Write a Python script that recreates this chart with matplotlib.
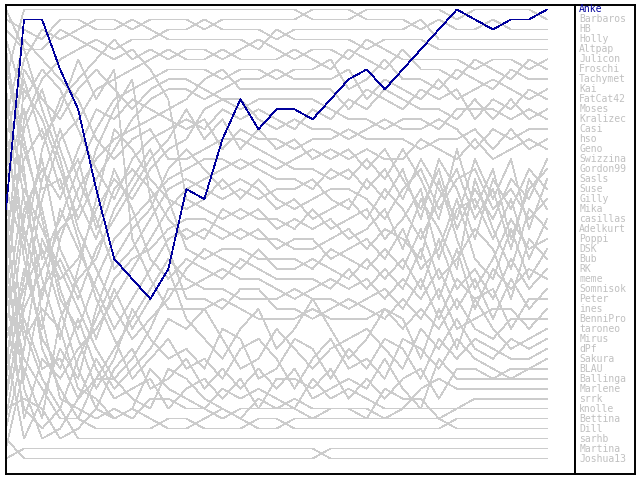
import matplotlib
matplotlib.use("Agg")
import matplotlib.pyplot as plt

# players, listed by final rank
names = ['Anke', 'Barbaros', 'HB', 'Holly', 'Altpap', 'Julicon', 'Froschi', 'Tachymet',
         'Kai', 'FatCat42', 'Moses', 'Kralizec', 'Casi', 'hso', 'Geno', 'Swizzina',
         'Gordon99', 'Sasls', 'Suse', 'Gilly', 'Mika', 'casillas', 'Adelkurt', 'Poppi',
         'DSK', 'Bub', 'RK', 'meme', 'Somnisok', 'Peter', 'ines', 'BenniPro', 'taroneo',
         'Mirus', 'dPf', 'Sakura', 'BLAU', 'Ballinga', 'Marlene', 'srrk', 'knolle',
         'Bettina', 'Dill', 'sarhb', 'Martina', 'Joshua13']

# rank of each player at each of the 31 rounds (same order as names)
ranks = [
    [21, 2, 2, 7, 11, 19, 26, 28, 30, 27, 19, 20, 14, 10, 13, 11, 11, 12, 10, 8, 7, 9, 7, 5, 3, 1, 2, 3, 2, 2, 1],
    [8, 1, 1, 1, 1, 1, 1, 1, 1, 1, 1, 1, 1, 1, 1, 1, 1, 2, 2, 2, 1, 1, 1, 1, 1, 2, 1, 1, 1, 1, 2],
    [14, 6, 3, 4, 3, 2, 2, 3, 2, 2, 2, 3, 2, 2, 2, 2, 2, 1, 1, 1, 2, 2, 2, 3, 2, 3, 3, 2, 3, 3, 3],
    [30, 12, 8, 6, 5, 4, 5, 4, 4, 3, 3, 2, 3, 3, 3, 4, 3, 3, 3, 3, 3, 3, 3, 2, 4, 4, 4, 4, 4, 4, 4],
    [2, 3, 4, 2, 2, 3, 3, 2, 3, 4, 4, 4, 4, 4, 5, 3, 4, 4, 4, 4, 5, 4, 4, 4, 5, 5, 5, 5, 5, 5, 5],
    [19, 25, 15, 10, 8, 6, 4, 6, 5, 6, 5, 5, 6, 5, 4, 5, 6, 5, 5, 6, 4, 5, 6, 6, 6, 6, 7, 6, 6, 7, 6],
    [40, 30, 20, 14, 12, 9, 8, 7, 6, 5, 6, 6, 5, 6, 6, 6, 5, 6, 7, 5, 6, 7, 5, 7, 7, 8, 6, 7, 8, 6, 7],
    [11, 18, 26, 22, 17, 13, 10, 9, 8, 7, 7, 7, 8, 7, 7, 8, 7, 7, 6, 9, 8, 6, 8, 8, 9, 7, 8, 9, 7, 8, 8],
    [25, 9, 12, 17, 22, 18, 15, 12, 10, 9, 9, 10, 9, 8, 8, 7, 8, 8, 8, 7, 10, 8, 9, 10, 8, 10, 9, 8, 9, 10, 9],
    [36, 27, 33, 24, 19, 16, 14, 13, 12, 11, 10, 8, 7, 9, 9, 9, 9, 9, 9, 11, 9, 10, 11, 9, 10, 9, 12, 10, 11, 9, 10],
    [4, 10, 7, 9, 13, 17, 20, 16, 14, 13, 12, 13, 11, 12, 11, 12, 13, 11, 12, 10, 11, 9, 10, 11, 11, 12, 10, 12, 10, 12, 11],
    [43, 35, 24, 28, 26, 21, 18, 20, 17, 15, 14, 11, 10, 11, 10, 10, 10, 10, 11, 12, 12, 13, 12, 12, 13, 11, 11, 11, 12, 11, 12],
    [17, 7, 10, 12, 9, 7, 9, 11, 9, 8, 8, 9, 10, 10, 12, 13, 12, 13, 13, 14, 13, 12, 13, 13, 12, 13, 15, 13, 14, 13, 13],
    [33, 21, 17, 20, 15, 11, 12, 10, 11, 12, 13, 12, 15, 13, 14, 14, 15, 14, 14, 13, 14, 14, 14, 15, 14, 14, 13, 15, 13, 15, 14],
    [22, 38, 29, 26, 30, 25, 22, 19, 16, 14, 11, 14, 12, 15, 13, 15, 14, 16, 15, 16, 15, 16, 16, 14, 15, 16, 14, 16, 15, 14, 15],
    [6, 14, 22, 30, 33, 28, 24, 22, 20, 18, 17, 16, 16, 17, 16, 17, 16, 15, 16, 15, 17, 15, 18, 21, 17, 23, 19, 22, 18, 20, 16],
    [29, 42, 36, 38, 35, 33, 30, 27, 24, 21, 19, 18, 17, 16, 17, 18, 18, 19, 17, 18, 16, 18, 15, 18, 22, 15, 21, 17, 24, 19, 17],
    [12, 4, 6, 8, 10, 14, 16, 14, 13, 16, 16, 15, 14, 14, 15, 16, 17, 17, 18, 17, 19, 17, 20, 16, 19, 22, 16, 20, 16, 23, 18],
    [38, 28, 18, 13, 18, 22, 27, 25, 22, 19, 18, 19, 20, 19, 20, 19, 19, 18, 20, 21, 18, 20, 17, 22, 16, 19, 24, 18, 21, 17, 19],
    [9, 20, 28, 34, 27, 20, 13, 15, 18, 20, 21, 20, 18, 20, 18, 20, 21, 20, 19, 19, 20, 22, 19, 17, 21, 18, 17, 21, 19, 22, 20],
    [35, 44, 40, 35, 38, 31, 26, 23, 21, 17, 15, 17, 19, 18, 19, 21, 20, 22, 21, 20, 22, 19, 21, 24, 20, 17, 22, 19, 25, 18, 21],
    [1, 5, 5, 3, 4, 5, 6, 5, 7, 10, 20, 21, 22, 21, 22, 22, 23, 21, 23, 22, 21, 24, 22, 19, 26, 21, 20, 24, 20, 26, 22],
    [15, 23, 30, 21, 25, 29, 33, 30, 27, 24, 23, 24, 21, 22, 21, 23, 22, 23, 22, 24, 23, 21, 25, 20, 23, 27, 18, 23, 27, 21, 23],
    [27, 13, 9, 15, 20, 24, 19, 17, 19, 22, 24, 23, 24, 23, 24, 24, 25, 25, 24, 23, 25, 23, 24, 26, 18, 24, 29, 26, 22, 25, 24],
    [20, 33, 38, 41, 36, 32, 28, 26, 25, 23, 22, 22, 23, 24, 23, 25, 24, 24, 26, 25, 24, 26, 23, 27, 25, 20, 26, 28, 23, 28, 25],
    [45, 37, 42, 32, 28, 26, 21, 18, 15, 20, 25, 26, 25, 25, 26, 26, 26, 27, 25, 26, 27, 25, 27, 23, 28, 26, 23, 25, 30, 24, 26],
    [3, 5, 11, 16, 23, 27, 31, 34, 32, 30, 27, 25, 26, 27, 25, 27, 27, 26, 27, 28, 26, 28, 26, 29, 24, 29, 27, 30, 26, 29, 27],
    [23, 16, 13, 19, 16, 23, 17, 21, 26, 28, 26, 27, 28, 26, 27, 28, 28, 28, 29, 27, 29, 27, 29, 25, 30, 25, 31, 27, 29, 27, 28],
    [31, 19, 23, 27, 31, 35, 38, 36, 33, 29, 29, 28, 27, 28, 28, 29, 30, 29, 28, 29, 28, 30, 28, 30, 27, 31, 28, 32, 28, 31, 29],
    [10, 24, 35, 39, 42, 38, 35, 32, 29, 26, 28, 29, 29, 30, 30, 30, 29, 30, 30, 31, 30, 29, 31, 28, 32, 28, 30, 29, 33, 30, 30],
    [42, 31, 27, 23, 21, 15, 11, 8, 20, 25, 30, 30, 31, 29, 29, 31, 31, 32, 31, 30, 31, 32, 30, 32, 29, 33, 32, 31, 31, 33, 31],
    [16, 8, 14, 11, 6, 10, 7, 24, 28, 31, 31, 31, 30, 31, 32, 32, 32, 31, 32, 32, 32, 31, 33, 31, 33, 30, 33, 34, 32, 32, 32],
    [37, 22, 16, 25, 29, 34, 29, 33, 30, 27, 32, 34, 36, 33, 31, 35, 33, 30, 33, 36, 34, 31, 32, 36, 31, 35, 30, 33, 35, 34, 33],
    [26, 39, 44, 43, 40, 36, 39, 37, 35, 32, 33, 31, 34, 37, 36, 33, 35, 37, 35, 34, 33, 35, 37, 33, 35, 32, 35, 36, 34, 35, 34],
    [7, 15, 21, 29, 34, 39, 36, 31, 34, 36, 35, 37, 33, 34, 38, 37, 34, 35, 38, 35, 37, 34, 35, 38, 34, 36, 34, 35, 36, 36, 35],
    [18, 11, 19, 18, 24, 30, 34, 38, 36, 34, 37, 36, 38, 35, 34, 36, 39, 36, 34, 37, 36, 38, 34, 35, 37, 34, 36, 37, 38, 37, 36],
    [34, 29, 25, 31, 37, 41, 37, 35, 39, 38, 36, 39, 37, 39, 37, 39, 37, 40, 39, 38, 39, 36, 39, 41, 36, 38, 38, 38, 37, 37, 37],
    [13, 26, 34, 37, 32, 37, 40, 39, 38, 41, 39, 38, 40, 38, 41, 38, 38, 39, 37, 40, 38, 40, 38, 37, 40, 37, 37, 38, 38, 38, 38],
    [24, 34, 31, 33, 39, 40, 42, 41, 37, 39, 40, 41, 39, 40, 39, 40, 41, 38, 40, 39, 40, 41, 41, 39, 38, 39, 39, 39, 39, 39, 39],
    [39, 32, 37, 36, 40, 38, 38, 40, 41, 37, 38, 40, 41, 42, 40, 41, 40, 41, 41, 41, 42, 39, 40, 40, 42, 41, 40, 40, 40, 40, 40],
    [5, 17, 32, 40, 41, 42, 41, 42, 40, 40, 41, 41, 42, 41, 41, 41, 41, 42, 41, 41, 41, 42, 41, 41, 41, 41, 41, 41, 41, 41, 41],
    [28, 36, 39, 42, 42, 43, 43, 43, 43, 42, 42, 43, 43, 43, 42, 42, 43, 43, 43, 43, 43, 43, 43, 43, 43, 42, 42, 42, 42, 42, 42],
    [41, 40, 41, 44, 43, 41, 42, 41, 42, 43, 43, 42, 41, 42, 43, 43, 42, 42, 42, 42, 42, 42, 42, 42, 42, 43, 43, 43, 43, 43, 43],
    [32, 41, 43, 41, 44, 44, 44, 44, 44, 44, 44, 44, 44, 44, 44, 44, 44, 44, 44, 44, 44, 44, 44, 44, 44, 44, 44, 44, 44, 44, 44],
    [44, 46, 46, 46, 46, 46, 46, 46, 46, 46, 46, 46, 46, 46, 46, 46, 46, 46, 45, 45, 45, 45, 45, 45, 45, 45, 45, 45, 45, 45, 45],
    [46, 45, 45, 45, 45, 45, 45, 45, 45, 45, 45, 45, 45, 45, 45, 45, 45, 45, 46, 46, 46, 46, 46, 46, 46, 46, 46, 46, 46, 46, 46],
]

highlight = 'Anke'
gray = '#cccccc'
blue = '#00009c'

fig = plt.figure(figsize=(6.4, 4.8), dpi=100)
ax = fig.add_axes([6 / 640, 6 / 480, 569 / 640, 469 / 480])
lg = fig.add_axes([575 / 640, 6 / 480, 60 / 640, 469 / 480])

rounds = list(range(len(ranks[0])))
for name, r in zip(names, ranks):
    if name != highlight:
        ax.plot(rounds, r, color=gray, lw=0.5, antialiased=False)
ax.plot(rounds, ranks[names.index(highlight)], color=blue, lw=0.5,
        antialiased=False, zorder=5)

ax.set_xlim(0, 31.55)
ax.set_ylim(47.55, 0.55)
ax.set_xticks([])
ax.set_yticks([])

# legend: names at their final rank
lg.set_ylim(47.55, 0.55)
lg.set_xlim(0, 1)
lg.set_xticks([])
lg.set_yticks([])
for name, r in zip(names, ranks):
    lg.text(0.07, r[-1], name, va='center', ha='left', fontsize=7,
            family='DejaVu Sans Mono', color=blue if name == highlight else '#c0c0c0')

for a in (ax, lg):
    for s in a.spines.values():
        s.set_linewidth(1.4)
        s.set_color('black')

fig.savefig('out.png', dpi=100)
